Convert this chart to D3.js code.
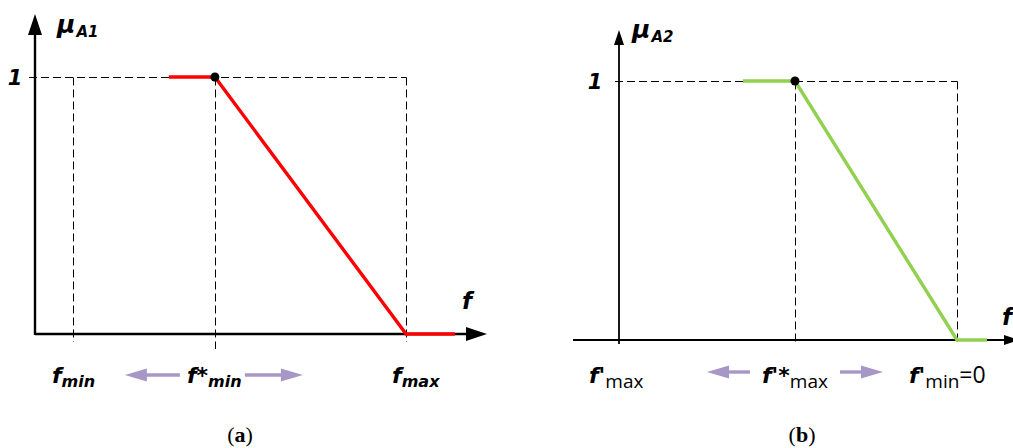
<!DOCTYPE html>
<html>
<head>
<meta charset="utf-8">
<script src="https://cdn.jsdelivr.net/npm/d3@7"></script>
<style>
  html, body { margin: 0; padding: 0; background: #fff; }
  svg { display: block; }
  .sans { font-family: "DejaVu Sans", Verdana, sans-serif; }
  .plain { font-family: "Open Sans", "Liberation Sans", Arial, sans-serif; }
</style>
</head>
<body>
<svg id="chart" width="1013" height="448"></svg>
<script>
// ---- data (x in relative units 0..100 along each f axis, y is membership) ----
const ticksA = ["fmin", "f*min", "fmax"];
const tickValsA = [8.4, 39.8, 82.1];
const curveA_x = [29.6, 39.8, 82.1, 92.9];
const curveA_y = [1, 1, 0, 0];

const ticksB = ["f'max", "f'*max", "f'min=0"];
const tickValsB = [0, 44, 84.5];
const curveB_x = [31, 44, 84.5, 92];
const curveB_y = [1, 1, 0, 0];

const levelLabels = ["1"];
const levelVals = [1];
const captions = ["(a)", "(b)"];

const svg = d3.select("#chart");
const PURPLE = "#a797c6";
const px = v => Math.round(v) + 0.5; // crisp 1px lines

// ! ARROW HEAD AS A TRIANGLE (tip, direction)
function arrowHead(g, tx, ty, dir, len, half, fill) {
  let pts;
  if (dir === "right") pts = [[tx, ty], [tx - len, ty - half], [tx - len, ty + half]];
  else if (dir === "left") pts = [[tx, ty], [tx + len, ty - half], [tx + len, ty + half]];
  else pts = [[tx, ty], [tx - half, ty + len], [tx + half, ty + len]];
  g.append("path").attr("d", d3.line()(pts) + "Z").attr("fill", fill);
}

// ! ONE MEMBERSHIP PANEL
function drawPanel(opt) {
  const g = svg.append("g");
  const x = opt.x, y = opt.y;
  const dash = "8,4";

  // dashed guides
  g.append("line")
    .attr("x1", x(opt.xMin) - opt.hTickOut).attr("x2", px(x(opt.tickVals[2])))
    .attr("y1", px(y(1))).attr("y2", px(y(1)))
    .attr("stroke", "#000").attr("stroke-width", 1).attr("stroke-dasharray", dash);
  opt.tickVals.forEach((v, i) => {
    if (v === opt.xMin) return;
    g.append("line")
      .attr("x1", px(x(v))).attr("x2", px(x(v)))
      .attr("y1", px(y(1))).attr("y2", y(0) + opt.dashBelow[i])
      .attr("stroke", "#000").attr("stroke-width", 1).attr("stroke-dasharray", dash);
  });

  // axes
  g.append("line")
    .attr("x1", x(opt.axisStart)).attr("x2", x(opt.xTip) - opt.headLen + 1)
    .attr("y1", y(0)).attr("y2", y(0))
    .attr("stroke", "#000").attr("stroke-width", opt.axisW);
  arrowHead(g, x(opt.xTip), y(0), "right", opt.headLen, opt.headHalf, "#000");
  g.append("line")
    .attr("x1", x(opt.xMin)).attr("x2", x(opt.xMin))
    .attr("y1", y(0) + opt.yBelow).attr("y2", y(opt.yTip) + opt.headLen - 1)
    .attr("stroke", "#000").attr("stroke-width", opt.axisW);
  arrowHead(g, x(opt.xMin), y(opt.yTip), "up", opt.headLen, opt.headHalf, "#000");

  // membership curve
  const pts = opt.cx.map((v, i) => [x(v), y(opt.cy[i])]);
  g.append("path")
    .attr("d", d3.line()(pts))
    .attr("fill", "none").attr("stroke", opt.color).attr("stroke-width", 3.4)
    .attr("stroke-linejoin", "miter");
  g.append("circle")
    .attr("cx", x(opt.cx[1])).attr("cy", y(opt.cy[1])).attr("r", 4.5).attr("fill", "#000");

  // level "1"
  g.append("text").attr("class", "sans")
    .attr("x", x(opt.xMin) - opt.oneDx).attr("y", y(levelVals[0]) + 8)
    .attr("text-anchor", "middle")
    .attr("font-size", 21).attr("font-weight", "bold").attr("font-style", "italic")
    .text(levelLabels[0]);

  // mu label
  const mu = g.append("text").attr("class", "sans")
    .attr("x", x(opt.xMin) + opt.muDx).attr("y", y(opt.yTip) + opt.muDy)
    .attr("font-weight", "bold").attr("font-style", "italic");
  mu.append("tspan").attr("font-size", 25).text("μ");
  mu.append("tspan").attr("font-size", 15).attr("dy", 4).attr("dx", 1).text(opt.muSub);

  // f axis label
  g.append("text").attr("class", "sans")
    .attr("x", x(opt.xTip) + opt.fDx).attr("y", y(0) - opt.fDy)
    .attr("font-size", 23).attr("font-weight", "bold").attr("font-style", "italic")
    .text("f");

  // tick labels under axis
  opt.tickVals.forEach((v, i) => {
    const parts = opt.labelParts[i];
    const t = g.append("text")
      .attr("x", x(v) + opt.labelDx[i]).attr("y", 383);
    t.append("tspan").attr("class", "sans").attr("font-size", 22)
      .attr("font-weight", "bold").attr("font-style", "italic")
      .text(parts[0]);
    t.append("tspan").attr("class", opt.subBold ? "sans" : "plain")
      .attr("font-size", opt.subSize).attr("dy", opt.subDy)
      .attr("font-weight", opt.subBold ? "bold" : "normal")
      .attr("font-style", opt.subItalic ? "italic" : "normal")
      .text(parts[1]);
    if (parts[2]) {
      t.append("tspan").attr("class", "plain").attr("font-size", 23).attr("dy", -opt.subDy).text(parts[2]);
    }
  });

  // purple shift arrows around f*
  const sx = x(opt.tickVals[1]);
  const ay = opt.arrowY;
  [[sx - opt.arrowFar, sx - opt.arrowNear, "left"], [sx + opt.arrowNear2, sx + opt.arrowFar2, "right"]]
    .forEach(([a, b, dir]) => {
      const tip = dir === "left" ? a : b;
      const tail = dir === "left" ? b : a;
      g.append("line")
        .attr("x1", tail).attr("x2", dir === "left" ? tip + 18 : tip - 18)
        .attr("y1", ay).attr("y2", ay)
        .attr("stroke", PURPLE).attr("stroke-width", 3.4);
      arrowHead(g, tip, ay, dir, 22, 6.5, PURPLE);
    });

  // caption
  const c = g.append("text")
    .attr("x", opt.capX).attr("y", 442).attr("text-anchor", "middle")
    .attr("font-family", "'Liberation Serif', 'Times New Roman', serif")
    .attr("font-size", 22);
  c.append("tspan").text("(");
  c.append("tspan").attr("font-weight", "bold").text(opt.caption.slice(1, 2));
  c.append("tspan").text(")");
}

// panel (a)
drawPanel({
  x: d3.scaleLinear().domain([0, 100]).range([35, 487]),
  y: d3.scaleLinear().domain([0, 1]).range([334, 77]),
  xMin: 0, axisStart: 0, xTip: 100, yTip: 1.245,
  headLen: 21, headHalf: 7, axisW: 2.4, yBelow: 1, hTickOut: 6,
  tickVals: tickValsA, dashBelow: [8, 15, 8],
  cx: curveA_x, cy: curveA_y, color: "#ff0000",
  oneDx: 20, muDx: 22, muDy: 19, muSub: "A1", fDx: -25, fDy: 25,
  labelParts: [["f", "min"], ["f*", "min"], ["f", "max"]],
  labelDx: [-21, -28, -14], subSize: 16, subDy: 4, subBold: true, subItalic: true,
  arrowY: 375, arrowFar: 90, arrowNear: 35, arrowNear2: 30, arrowFar2: 88,
  capX: 240, caption: captions[0]
});

// panel (b)
drawPanel({
  x: d3.scaleLinear().domain([0, 100]).range([619, 1019]),
  y: d3.scaleLinear().domain([0, 1]).range([340, 81]),
  xMin: 0, axisStart: -11.5, xTip: 100, yTip: 1.197,
  headLen: 15, headHalf: 5, axisW: 1.8, yBelow: 4, hTickOut: 4,
  tickVals: tickValsB, dashBelow: [4, 4, 4],
  cx: curveB_x, cy: curveB_y, color: "#92d050",
  oneDx: 24, muDx: 13, muDy: 8, muSub: "A2", fDx: -17, fDy: 15,
  labelParts: [["f'", "max"], ["f'*", "max"], ["f'", "min", "=0"]],
  labelDx: [-30, -33, -48], subSize: 19, subDy: 5, subBold: false, subItalic: false,
  arrowY: 372, arrowFar: 88, arrowNear: 45, arrowNear2: 45, arrowFar2: 88,
  capX: 802, caption: captions[1]
});
</script>
</body>
</html>
